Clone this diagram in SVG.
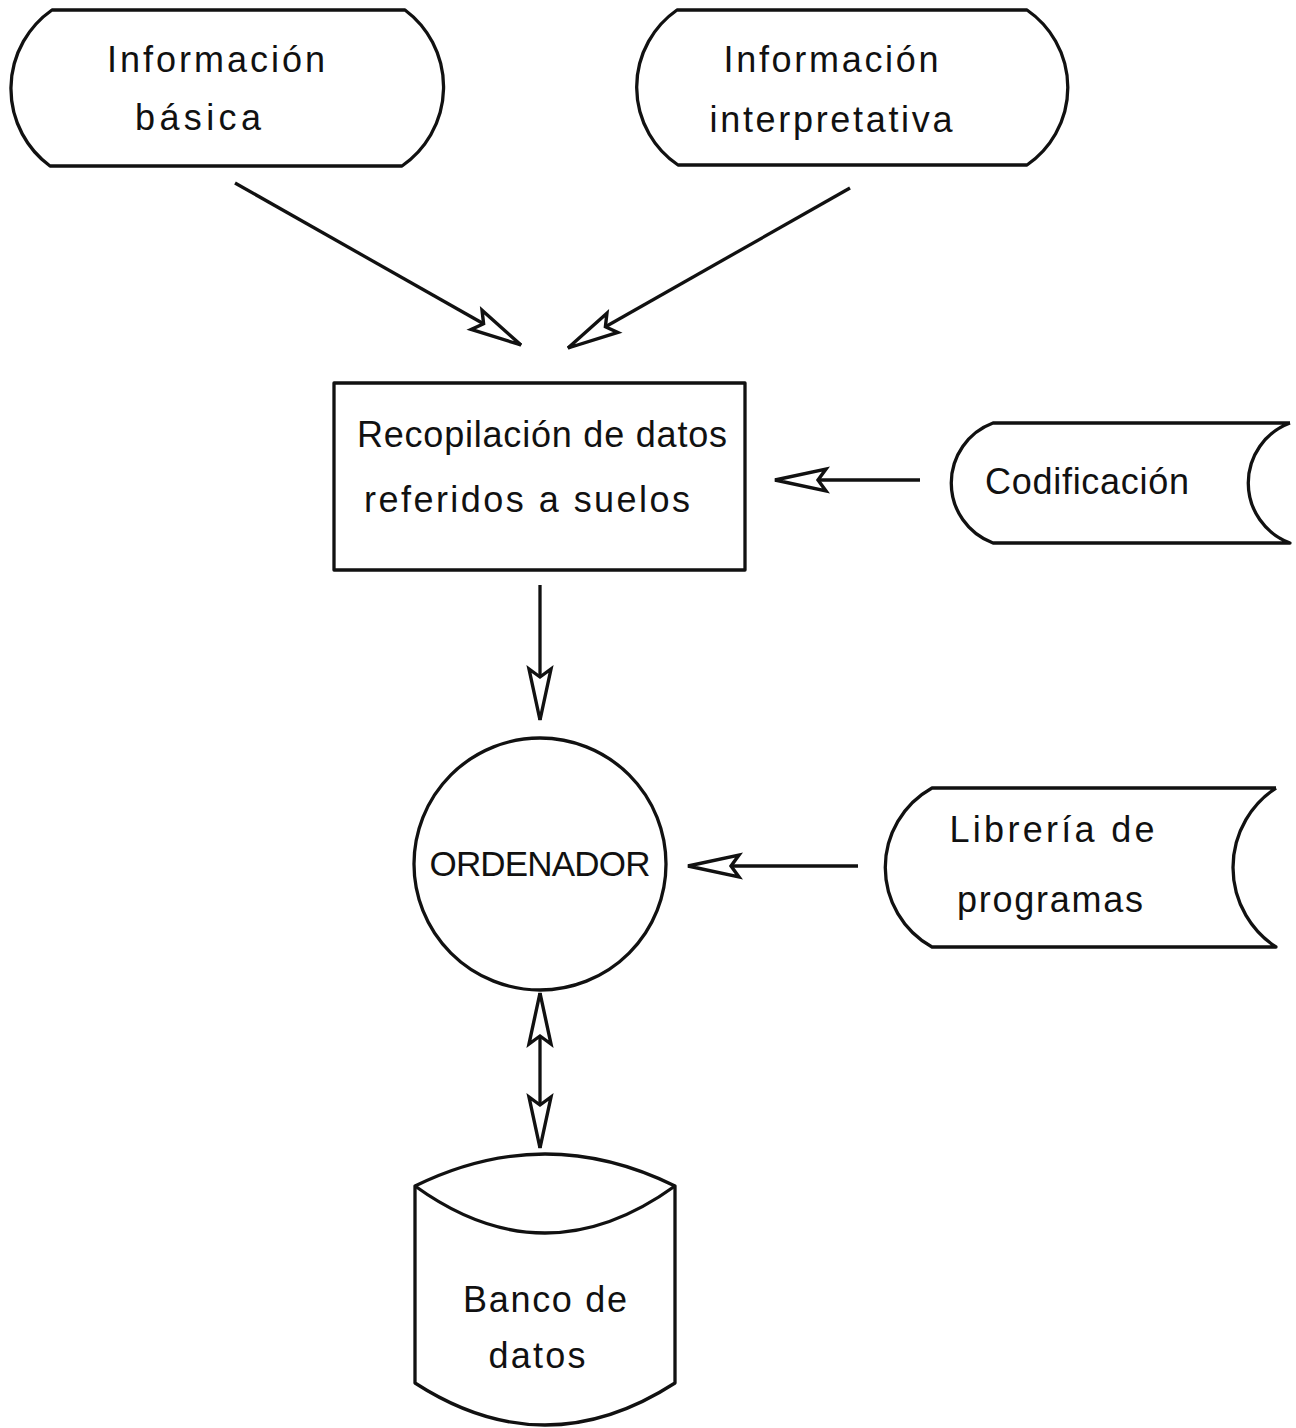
<svg xmlns="http://www.w3.org/2000/svg" width="1296" height="1428" viewBox="0 0 1296 1428">
  <defs>
    <style>
      .shape { fill: none; stroke: #111; stroke-width: 3.3; stroke-linejoin: round; }
      .label { font-family: "Liberation Sans", "DejaVu Sans", sans-serif; font-size: 36px; fill: #111; text-anchor: middle; }
      .caps { font-size: 35px; }
      .flow { fill: none; stroke: #111; stroke-width: 3.3; }
    </style>
    <!-- hollow notched dart arrowhead, tip at the line end -->
    <marker id="dart" markerUnits="userSpaceOnUse" viewBox="-60 -16 64 32" refX="0" refY="0" markerWidth="64" markerHeight="32" orient="auto-start-reverse" overflow="visible">
      <path d="M0,0 L-51,-11 L-43,0 L-51,11 Z" fill="#fff" stroke="#111" stroke-width="3.4" stroke-linejoin="miter"/>
    </marker>
  </defs>
  <rect width="1296" height="1428" fill="#fff"/>

  <g id="info-basica">
    <path class="shape" d="M52,10 L405,10 A96,96 0 0 1 402,166 L50,166 A96,96 0 0 1 52,10 Z"/>
    <text class="label" x="216" y="72" textLength="218" lengthAdjust="spacing">Información</text>
    <text class="label" x="198" y="130" textLength="126" lengthAdjust="spacing">básica</text>
  </g>

  <g id="info-interpretativa">
    <path class="shape" d="M677,10 L1027,10 A94,94 0 0 1 1027,165 L678,165 A94,94 0 0 1 677,10 Z"/>
    <text class="label" x="831" y="72" textLength="215" lengthAdjust="spacing">Información</text>
    <text class="label" x="831" y="132" textLength="243" lengthAdjust="spacing">interpretativa</text>
  </g>

  <g id="recopilacion">
    <rect class="shape" x="334" y="383" width="411" height="187"/>
    <text class="label" x="542" y="447" textLength="370" lengthAdjust="spacing">Recopilación de datos</text>
    <text class="label" x="527" y="512" textLength="326" lengthAdjust="spacing">referidos a suelos</text>
  </g>

  <g id="codificacion">
    <path class="shape" d="M1290,423 L993,423 A64,64 0 0 0 993,543 L1290,543 A64,64 0 0 1 1290,423"/>
    <text class="label" x="1087" y="494" textLength="204" lengthAdjust="spacing">Codificación</text>
  </g>

  <g id="ordenador">
    <circle class="shape" cx="540" cy="864" r="126"/>
    <text class="label caps" x="540" y="876" textLength="221" lengthAdjust="spacing">ORDENADOR</text>
  </g>

  <g id="libreria">
    <path class="shape" d="M1276,788 L932,788 A91,91 0 0 0 932,947 L1276,947 A95,95 0 0 1 1276,788"/>
    <text class="label" x="1052" y="842" textLength="205" lengthAdjust="spacing">Librería de</text>
    <text class="label" x="1050" y="912" textLength="186" lengthAdjust="spacing">programas</text>
  </g>

  <g id="banco-datos">
    <path class="shape" d="M415,1186 Q545,1122 675,1186 L675,1383 Q545,1467 415,1383 Z"/>
    <path class="shape" d="M415,1186 Q545,1280 675,1186"/>
    <text class="label" x="545" y="1312" textLength="164" lengthAdjust="spacing">Banco de</text>
    <text class="label" x="537" y="1368" textLength="97" lengthAdjust="spacing">datos</text>
  </g>

  <g id="connectors">
    <line class="flow" x1="235" y1="183" x2="521" y2="345" marker-end="url(#dart)"/>
    <line class="flow" x1="850" y1="188" x2="568" y2="348" marker-end="url(#dart)"/>
    <line class="flow" x1="920" y1="480" x2="775" y2="480" marker-end="url(#dart)"/>
    <line class="flow" x1="540" y1="585" x2="540" y2="720" marker-end="url(#dart)"/>
    <line class="flow" x1="858" y1="866" x2="688" y2="866" marker-end="url(#dart)"/>
    <line class="flow" x1="540" y1="993" x2="540" y2="1148" marker-start="url(#dart)" marker-end="url(#dart)"/>
  </g>
</svg>
